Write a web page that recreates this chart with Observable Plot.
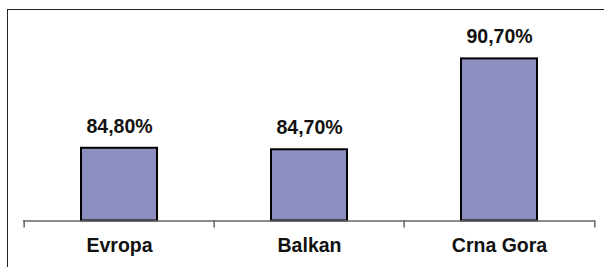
<!DOCTYPE html>
<html>
<head>
<meta charset="utf-8">
<script src="https://cdn.jsdelivr.net/npm/d3@7"></script>
<script src="https://cdn.jsdelivr.net/npm/@observablehq/plot@0.6"></script>
<style>
  html, body { margin: 0; padding: 0; background: #fff; }
  #wrap { position: relative; width: 604px; height: 267px; overflow: hidden; }
  #frame { position: absolute; left: 6.5px; top: 8.5px; width: 700px; height: 400px;
           border-left: 1.5px solid #222; border-top: 1.5px solid #222; pointer-events: none; }
  #chart { position: absolute; left: 0; top: 0; }
</style>
</head>
<body>
<div id="wrap"><div id="frame"></div><div id="chart"></div></div>
<script>
const categories = ["Evropa", "Balkan", "Crna Gora"];
const values = [84.8, 84.7, 90.7];

const data = categories.map((c, i) => ({cat: c, value: values[i]}));
const fmt = v => v.toFixed(2).replace(".", ",") + "%";

const W = 604, H = 267, mL = 23, mR = 9, mT = 38.7, mB = 46.5;
const step = (W - mL - mR) / categories.length;
const font = "'Liberation Sans', Arial, sans-serif";

const chart = Plot.plot({
  width: W, height: H,
  marginLeft: mL, marginRight: mR, marginTop: mT, marginBottom: mB,
  style: {fontFamily: font, background: "transparent", overflow: "visible"},
  x: {domain: categories, padding: 0, axis: null},
  y: {domain: [80, 92], axis: null},
  marks: [
    Plot.barY(data, {x: "cat", y1: 80, y2: "value", fill: "#8c8fbf", stroke: "#000", strokeWidth: 2,
      insetLeft: 57, insetRight: 57}),
    Plot.ruleY([80], {stroke: "#666", strokeWidth: 1.5}),
    Plot.ruleX(categories, {x: d => d, y1: 80, y2: 80, insetBottom: -7, dx: -step / 2, stroke: "#666", strokeWidth: 1.5}),
    Plot.ruleX(categories.slice(-1), {x: d => d, y1: 80, y2: 80, insetBottom: -7, dx: step / 2, stroke: "#666", strokeWidth: 1.5}),
    Plot.text(data, {x: "cat", y: "value", text: d => fmt(d.value), lineAnchor: "bottom", dy: -15.5,
      fontSize: 19.5, fontWeight: "bold", fill: "#111"}),
    Plot.text(categories, {x: d => d, y: 80, text: d => d, lineAnchor: "bottom", dy: 31.2,
      fontSize: 19.5, fontWeight: "bold", fill: "#111"})
  ]
});
document.getElementById("chart").appendChild(chart);
</script>
</body>
</html>
